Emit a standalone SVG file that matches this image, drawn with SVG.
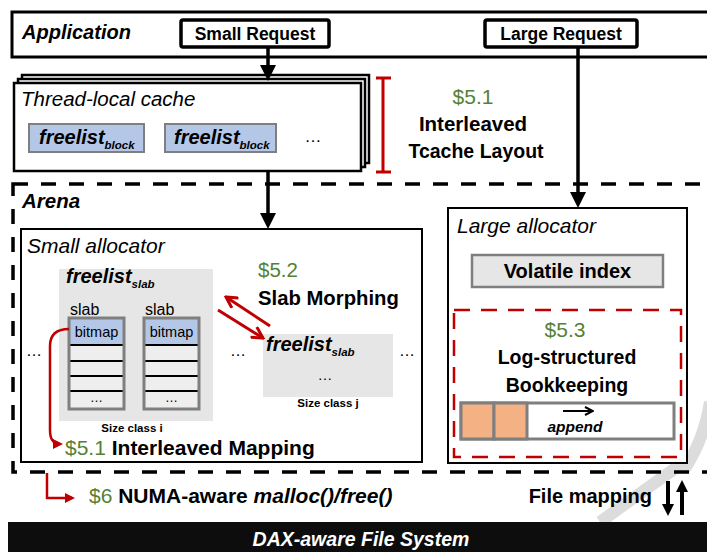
<svg xmlns="http://www.w3.org/2000/svg" width="707" height="552" viewBox="0 0 707 552">
  <defs>
    <marker id="ah" markerUnits="userSpaceOnUse" viewBox="0 0 16 16" refX="11" refY="8" markerWidth="16" markerHeight="16" orient="auto">
      <path d="M0,0 L16,8 L0,16 z" fill="#000"/>
    </marker>
    <marker id="ahs" markerUnits="userSpaceOnUse" viewBox="0 0 12 12" refX="7" refY="6" markerWidth="12" markerHeight="12" orient="auto">
      <path d="M0,0 L12,6 L0,12 z" fill="#000"/>
    </marker>
    <marker id="rt" markerUnits="userSpaceOnUse" viewBox="0 0 10 10" refX="7" refY="5" markerWidth="10" markerHeight="10" orient="auto">
      <path d="M0,0 L10,5 L0,10 z" fill="#c00000"/>
    </marker>
    <marker id="rv" markerUnits="userSpaceOnUse" viewBox="0 0 14 14" refX="12" refY="7" markerWidth="14" markerHeight="14" orient="auto">
      <path d="M1,1 L12,7 L1,13" fill="none" stroke="#c00000" stroke-width="3"/>
    </marker>
    <marker id="av" markerUnits="userSpaceOnUse" viewBox="0 0 10 10" refX="9" refY="5" markerWidth="10" markerHeight="10" orient="auto">
      <path d="M1,1 L9,5 L1,9" fill="none" stroke="#000" stroke-width="2"/>
    </marker>
  </defs>
  <style>
    text { font-family: "Liberation Sans", Arial, sans-serif; fill: #000; }
    .b { font-weight: bold; }
    .i { font-style: italic; }
    .g { fill: #548235; }
    .w { fill: #fff; }
    .mid { text-anchor: middle; }
    .box { fill: #fff; stroke: #000; }
    .bm { fill: #b4c7e7; }
    .gray { fill: #e7e6e6; }
    .edge { fill: none; stroke: #000; stroke-width: 3.5; }
    .red { fill: none; stroke: #c00000; stroke-width: 2.5; }
    .dash { fill: none; stroke: #000; stroke-width: 3.5; stroke-dasharray: 15 13; }
  </style>

  <rect width="707" height="552" fill="#fff"/>

  <!-- faint watermark strokes -->
  <g id="watermark" fill="none" stroke="#dcdcdc" stroke-width="12">
    <path d="M710,402 Q704,440 684,470"/>
    <path d="M600,522 L684,462"/>
  </g>

  <!-- Application layer -->
  <g id="application">
    <rect x="12" y="12" width="712" height="45" class="box" stroke-width="3"/>
    <text x="22" y="39" class="b i" font-size="20">Application</text>
  </g>
  <g id="small-request">
    <rect x="181" y="20" width="148" height="27" rx="2" class="box" stroke-width="3.5"/>
    <text x="255" y="40" class="b mid" font-size="17.5">Small Request</text>
  </g>
  <g id="large-request">
    <rect x="485" y="20" width="152" height="27" rx="2" class="box" stroke-width="3.5"/>
    <text x="561" y="40" class="b mid" font-size="17.5">Large Request</text>
  </g>

  <!-- Thread-local cache (stacked per thread) -->
  <g id="tcache">
    <rect x="22" y="75" width="347" height="88" class="box" stroke-width="2.5"/>
    <rect x="18" y="79" width="347" height="88" class="box" stroke-width="2.5"/>
    <rect x="14" y="83" width="347" height="88" class="box" stroke-width="2.5"/>
    <text x="21" y="106" class="i" font-size="20.5">Thread-local cache</text>
    <rect x="29" y="124" width="115" height="28" fill="#b4c7e7" stroke="#7f7f7f" stroke-width="2"/>
    <text x="39" y="144" class="b i" font-size="20">freelist<tspan font-size="11.5" dy="5">block</tspan></text>
    <rect x="165" y="124" width="111" height="28" fill="#b4c7e7" stroke="#7f7f7f" stroke-width="2"/>
    <text x="174" y="144" class="b i" font-size="20">freelist<tspan font-size="11.5" dy="5">block</tspan></text>
    <text x="313" y="142" class="mid" font-size="17">…</text>
  </g>

  <!-- §5.1 interleaved tcache layout note -->
  <g id="note-tcache">
    <path d="M383,78 L383,172 M376,78 L391,78 M376,172 L391,172" fill="none" stroke="#c00000" stroke-width="3"/>
    <text x="473" y="104" class="g mid" font-size="21">$5.1</text>
    <text x="473" y="131" class="b mid" font-size="20.5">Interleaved</text>
    <text x="476" y="158" class="b mid" font-size="19.5">Tcache Layout</text>
  </g>

  <!-- Arena -->
  <g id="arena">
    <rect x="13" y="184" width="712" height="288" class="dash"/>
    <text x="22" y="208" class="b i" font-size="20.5">Arena</text>
  </g>

  <!-- Small allocator -->
  <g id="small-allocator">
    <rect x="21" y="229" width="401" height="233" class="box" stroke-width="2"/>
    <text x="27" y="253" class="i" font-size="21">Small allocator</text>

    <rect x="59" y="269" width="154" height="152" class="gray"/>
    <text x="66" y="283" class="b i" font-size="20">freelist<tspan font-size="11.5" dy="5">slab</tspan></text>
    <text x="70" y="315" font-size="16">slab</text>
    <text x="145" y="315" font-size="16">slab</text>

    <g id="slab-1">
      <rect x="69" y="318" width="55" height="91" fill="#eeeeee"/>
      <rect x="69" y="318" width="55" height="27" class="bm"/>
      <path d="M69,345 H124 M69,361 H124 M69,376 H124 M69,391 H124" stroke="#000" stroke-width="2"/>
      <rect x="69" y="318" width="55" height="91" fill="none" stroke="#7f7f7f" stroke-width="3"/>
      <text x="96.5" y="337" class="mid" font-size="14.5">bitmap</text>
      <text x="96.5" y="402" class="mid" font-size="13">…</text>
    </g>
    <g id="slab-2">
      <rect x="144" y="318" width="55" height="91" fill="#eeeeee"/>
      <rect x="144" y="318" width="55" height="27" class="bm"/>
      <path d="M144,345 H199 M144,361 H199 M144,376 H199 M144,391 H199" stroke="#000" stroke-width="2"/>
      <rect x="144" y="318" width="55" height="91" fill="none" stroke="#7f7f7f" stroke-width="3"/>
      <text x="171.5" y="337" class="mid" font-size="14.5">bitmap</text>
      <text x="171.5" y="402" class="mid" font-size="13">…</text>
    </g>
    <text x="132" y="432" class="b mid" font-size="11.5">Size class i</text>

    <text x="34" y="356" class="mid" font-size="16">…</text>
    <text x="238" y="356" class="mid" font-size="16">…</text>
    <text x="407" y="356" class="mid" font-size="16">…</text>

    <rect x="263" y="334" width="130" height="63" class="gray"/>
    <text x="266" y="351" class="b i" font-size="20">freelist<tspan font-size="11.5" dy="5">slab</tspan></text>
    <text x="325" y="380" class="mid" font-size="15">…</text>
    <text x="328" y="407" class="b mid" font-size="11.5">Size class j</text>

    <text x="258" y="277" class="g" font-size="20.5">$5.2</text>
    <text x="258" y="305" class="b" font-size="20.3">Slab Morphing</text>

    <text x="65" y="455" font-size="21"><tspan class="g">$5.1 </tspan><tspan class="b">Interleaved Mapping</tspan></text>
  </g>

  <!-- Large allocator -->
  <g id="large-allocator">
    <rect x="448" y="208" width="239" height="255" class="box" stroke-width="2"/>
    <text x="457" y="233" class="i" font-size="21">Large allocator</text>
    <rect x="472" y="255" width="191" height="32" fill="#e7e6e6" stroke="#7f7f7f" stroke-width="2.5"/>
    <text x="567.5" y="278" class="b mid" font-size="20">Volatile index</text>
  </g>

  <g id="log-bookkeeping">
    <rect x="454" y="310" width="227" height="147" fill="none" stroke="#c00000" stroke-width="2.5" stroke-dasharray="16 11"/>
    <text x="565" y="337" class="g mid" font-size="21">$5.3</text>
    <text x="567" y="364" class="b mid" font-size="19.5">Log-structured</text>
    <text x="567" y="392" class="b mid" font-size="19.5">Bookkeeping</text>
    <rect x="461" y="403" width="213" height="36" fill="#fff" stroke="#7f7f7f" stroke-width="3"/>
    <rect x="461" y="403" width="33" height="36" fill="#f4b183" stroke="#7f7f7f" stroke-width="3"/>
    <rect x="494" y="403" width="33" height="36" fill="#f4b183" stroke="#7f7f7f" stroke-width="3"/>
    <line x1="563" y1="411" x2="593" y2="411" stroke="#000" stroke-width="2" marker-end="url(#av)"/>
    <text x="575" y="432" class="b i mid" font-size="15.5">append</text>
  </g>

  <!-- NUMA note -->
  <g id="note-numa">
    <text x="89" y="503" font-size="21"><tspan class="g">$6 </tspan><tspan class="b">NUMA-aware </tspan><tspan class="b i">malloc()/free()</tspan></text>
  </g>

  <g id="file-mapping">
    <text x="652" y="503" class="b" font-size="20" text-anchor="end">File mapping</text>
  </g>

  <!-- DAX-aware file system -->
  <g id="dax-fs">
    <rect x="8" y="522" width="700" height="30" fill="#0d0d0d"/>
    <text x="361" y="546" class="b i w mid" font-size="19.5">DAX-aware File System</text>
  </g>

  <!-- connectors -->
  <g id="connectors">
    <line x1="268" y1="47" x2="268" y2="76" class="edge" marker-end="url(#ah)"/>
    <line x1="268" y1="171" x2="268" y2="224" class="edge" marker-end="url(#ah)"/>
    <line x1="578" y1="47" x2="578" y2="203" class="edge" marker-end="url(#ah)"/>
    <path d="M69,329 C58,329 50,333 50,346 L50,430 C50,440 54,444 60,444" class="red" marker-end="url(#rt)"/>
    <path d="M47,473 L47,498 L72,498" class="red" marker-end="url(#rt)"/>
    <line x1="270" y1="326" x2="226" y2="297" stroke="#c00000" stroke-width="3" marker-end="url(#rv)"/>
    <line x1="218" y1="310" x2="263" y2="338" stroke="#c00000" stroke-width="3" marker-end="url(#rv)"/>
    <line x1="668" y1="481" x2="668" y2="511" stroke="#000" stroke-width="4" marker-end="url(#ahs)"/>
    <line x1="682" y1="515" x2="682" y2="485" stroke="#000" stroke-width="4" marker-end="url(#ahs)"/>
  </g>
</svg>
